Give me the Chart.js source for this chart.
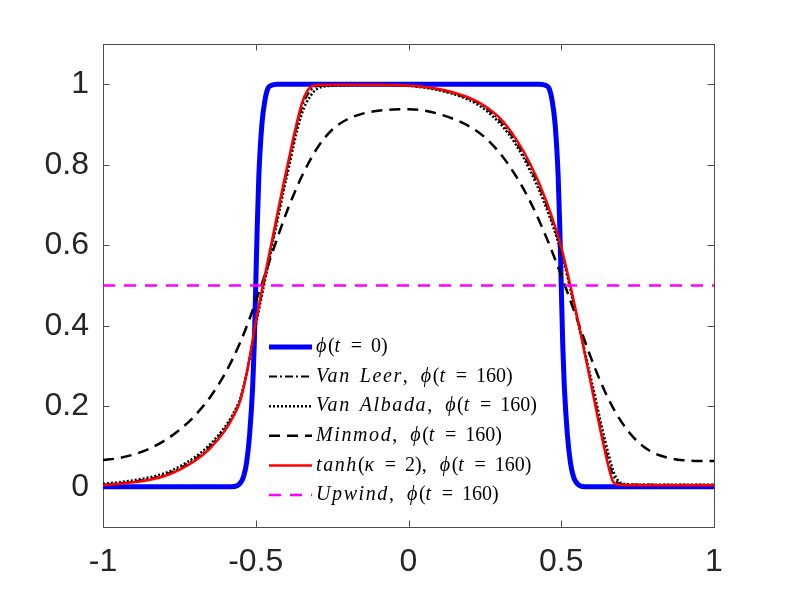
<!DOCTYPE html>
<html lang="en">
<head>
<meta charset="UTF-8" />
<title>Limiter comparison, phi(t = 160)</title>
<style>
  body{margin:0;background:#fff;}
  #wrap{width:789px;height:592px;}
  canvas{display:block;}
</style>
<script src="https://cdn.jsdelivr.net/npm/chart.js@4.4.0/dist/chart.umd.min.js"></script>
</head>
<body>
<div id="wrap"><canvas id="chart" width="789" height="592"></canvas></div>
<script>
// ===== data =====
const xTicks = [-1, -0.5, 0, 0.5, 1];
const xTickLabels = ['-1', '-0.5', '0', '0.5', '1'];
const yTicks = [0, 0.2, 0.4, 0.6, 0.8, 1];
const yTickLabels = ['0', '0.2', '0.4', '0.6', '0.8', '1'];

// phi(t=0)
const initX = [-1,-0.58,-0.56,-0.55,-0.54,-0.53,-0.52,-0.51,-0.505,-0.5,-0.495,-0.49,-0.48,-0.47,-0.46,-0.45,-0.43,
               0.43,0.45,0.46,0.47,0.48,0.49,0.495,0.5,0.505,0.51,0.52,0.53,0.54,0.55,0.56,0.58,1];
const initY = [0,0,0.003,0.01,0.025,0.06,0.13,0.25,0.35,0.5,0.65,0.77,0.9,0.96,0.99,0.997,1,
               1,0.997,0.99,0.96,0.9,0.77,0.65,0.5,0.35,0.25,0.13,0.06,0.025,0.01,0.003,0,0];

// Van Leer
const vanLeerX = [-1,-0.9,-0.8,-0.75,-0.7,-0.65,-0.6,-0.575,-0.55,-0.525,-0.5,-0.45,-0.4,-0.35,-0.32,-0.3,-0.2,-0.1,
                  0,0.1,0.2,0.25,0.3,0.35,0.4,0.45,0.5,0.55,0.6,0.65,0.675,0.7,1];
const vanLeerY = [0.005,0.013,0.029,0.046,0.068,0.1,0.145,0.176,0.218,0.3,0.405,0.592,0.775,0.94,0.985,0.995,0.998,0.998,
                  0.996,0.986,0.963,0.942,0.908,0.858,0.79,0.703,0.587,0.427,0.25,0.078,0.02,0.006,0.005];

// Van Albada
const vanAlbadaX = [-1,-0.9,-0.8,-0.75,-0.7,-0.65,-0.6,-0.575,-0.55,-0.525,-0.5,-0.45,-0.4,-0.35,-0.32,-0.3,-0.25,-0.1,
                    0,0.1,0.2,0.25,0.3,0.35,0.4,0.45,0.5,0.55,0.6,0.65,0.675,0.7,0.75,1];
const vanAlbadaY = [0.007,0.016,0.033,0.05,0.073,0.105,0.15,0.18,0.222,0.3,0.40,0.585,0.765,0.925,0.972,0.988,0.996,0.998,
                    0.996,0.985,0.96,0.937,0.902,0.852,0.782,0.695,0.582,0.425,0.26,0.095,0.03,0.008,0.005,0.005];

// Minmod
const minmodX = [-1,-0.95,-0.9,-0.85,-0.8,-0.75,-0.7,-0.65,-0.6,-0.55,-0.5,-0.45,-0.4,-0.35,-0.3,-0.25,-0.2,-0.15,-0.1,-0.05,
                 0,0.05,0.1,0.15,0.2,0.25,0.3,0.35,0.4,0.45,0.5,0.55,0.6,0.65,0.7,0.75,0.8,0.85,0.9,0.95,1];
const minmodY = [0.066,0.071,0.08,0.094,0.114,0.141,0.176,0.222,0.282,0.36,0.46,0.572,0.68,0.77,0.84,0.887,0.913,0.927,0.934,0.937,
                 0.938,0.935,0.926,0.913,0.895,0.868,0.828,0.774,0.706,0.622,0.525,0.42,0.315,0.225,0.158,0.112,0.085,0.072,0.066,0.064,0.064];

// tanh(kappa=2)
const tanhX = [-1,-0.95,-0.9,-0.85,-0.8,-0.75,-0.7,-0.65,-0.6,-0.575,-0.55,-0.525,-0.5,-0.45,-0.4,-0.35,-0.33,-0.31,-0.25,-0.2,-0.1,
               0,0.05,0.1,0.15,0.2,0.25,0.3,0.35,0.4,0.45,0.5,0.55,0.6,0.65,0.67,0.69,0.8,1];
const tanhY = [0.004,0.007,0.011,0.017,0.026,0.042,0.064,0.095,0.14,0.172,0.215,0.3,0.41,0.6,0.785,0.95,0.985,0.997,0.999,0.999,0.999,
               0.997,0.994,0.988,0.979,0.966,0.946,0.915,0.866,0.8,0.712,0.595,0.43,0.245,0.065,0.012,0.005,0.004,0.004];

// Upwind
const upwindX = [-1, 1];
const upwindY = [0.5, 0.5];

const labels = [
  'ϕ(t = 0)',
  'Van Leer, ϕ(t = 160)',
  'Van Albada, ϕ(t = 160)',
  'Minmod, ϕ(t = 160)',
  'tanh(κ = 2), ϕ(t = 160)',
  'Upwind, ϕ(t = 160)'
];

const pts = (xs, ys) => xs.map((x, i) => ({x: x, y: ys[i]}));

const series = [
  {label: labels[0], data: pts(initX, initY), borderColor: '#0000ff', borderWidth: 5, borderDash: []},
  {label: labels[1], data: pts(vanLeerX, vanLeerY), borderColor: '#000000', borderWidth: 2, borderDash: [8, 3, 2, 3]},
  {label: labels[2], data: pts(vanAlbadaX, vanAlbadaY), borderColor: '#000000', borderWidth: 2.5, borderDash: [2, 2]},
  {label: labels[3], data: pts(minmodX, minmodY), borderColor: '#000000', borderWidth: 2.5, borderDash: [11, 7]},
  {label: labels[4], data: pts(tanhX, tanhY), borderColor: '#ff0000', borderWidth: 2.5, borderDash: []},
  {label: labels[5], data: pts(upwindX, upwindY), borderColor: '#ff00ff', borderWidth: 2.5, borderDash: [12, 9]}
];

// ===== box with inward ticks (matlab look) =====
const framePlugin = {
  id: 'frame',
  beforeDatasetsDraw(chart) {
    const {ctx, chartArea: a, scales: {x, y}} = chart;
    const t = 6.5;
    ctx.save();
    ctx.strokeStyle = '#4d4d4d';
    ctx.lineWidth = 1;
    ctx.strokeRect(a.left + 0.5, a.top + 0.5, a.right - a.left, a.bottom - a.top);
    ctx.beginPath();
    xTicks.forEach(v => {
      const px = Math.round(x.getPixelForValue(v)) + 0.5;
      ctx.moveTo(px, a.bottom); ctx.lineTo(px, a.bottom - t);
      ctx.moveTo(px, a.top); ctx.lineTo(px, a.top + t);
    });
    yTicks.forEach(v => {
      const py = Math.round(y.getPixelForValue(v)) + 0.5;
      ctx.moveTo(a.left, py); ctx.lineTo(a.left + t, py);
      ctx.moveTo(a.right, py); ctx.lineTo(a.right - t, py);
    });
    ctx.stroke();
    ctx.restore();
  }
};

// ===== legend with latex-like labels =====
// letters in italic, digits and signs upright, spaces widened like math mode
function drawMath(ctx, str, x, y) {
  const runs = str.match(/[A-Za-zϕκ]+|\s+|[^A-Za-zϕκ\s]+/g);
  ctx.textBaseline = 'middle';
  ctx.fillStyle = '#000';
  runs.forEach((r, i) => {
    if (/^\s+$/.test(r)) {
      const prev = runs[i - 1] || '';
      x += prev.endsWith(',') ? 13 : 9;
      return;
    }
    const ital = /[A-Za-zϕκ]/.test(r);
    ctx.font = (ital ? 'italic ' : '') + '20px "Liberation Serif", "DejaVu Serif", serif';
    ctx.letterSpacing = ital ? '1.6px' : '0px';
    ctx.fillText(r, x, y);
    x += ctx.measureText(r).width;
  });
  ctx.letterSpacing = '0px';
}

const legendPlugin = {
  id: 'mathLegend',
  afterDatasetsDraw(chart) {
    const ctx = chart.ctx;
    const x0 = 269, x1 = 312, top = 347, step = 29.6;
    chart.data.datasets.forEach((ds, i) => {
      const yy = top + i * step;
      ctx.save();
      ctx.strokeStyle = ds.borderColor;
      ctx.lineWidth = ds.borderWidth;
      ctx.setLineDash(ds.borderDash);
      ctx.beginPath();
      ctx.moveTo(x0, yy); ctx.lineTo(x1, yy);
      ctx.stroke();
      ctx.setLineDash([]);
      drawMath(ctx, ds.label, x1 + 4, yy);
      ctx.restore();
    });
  }
};

const tickFont = {family: '"Liberation Sans", Arial, sans-serif', size: 32};

new Chart(document.getElementById('chart'), {
  type: 'line',
  data: {
    datasets: series.map((s, i) => Object.assign({
      fill: false,
      pointRadius: 0,
      cubicInterpolationMode: 'monotone',
      borderJoinStyle: 'round',
      order: series.length - i
    }, s))
  },
  options: {
    responsive: false,
    animation: false,
    devicePixelRatio: 1,
    layout: {padding: {top: 44, right: 75, left: 0, bottom: 0}},
    plugins: {legend: {display: false}, tooltip: {enabled: false}},
    scales: {
      x: {
        type: 'linear', min: -1, max: 1,
        grid: {display: false}, border: {display: false},
        afterBuildTicks: s => { s.ticks = xTicks.map(v => ({value: v})); },
        afterFit: s => { s.height = 65; },
        ticks: {
          color: '#262626', font: tickFont, padding: 8, maxRotation: 0,
          callback: (v) => xTickLabels[xTicks.indexOf(v)]
        }
      },
      y: {
        type: 'linear', min: -0.1, max: 1.1,
        grid: {display: false}, border: {display: false},
        afterBuildTicks: s => { s.ticks = yTicks.map(v => ({value: v})); },
        afterFit: s => { s.width = 103; },
        ticks: {
          color: '#262626', font: tickFont, padding: 6,
          callback: (v) => yTickLabels[yTicks.indexOf(v)]
        }
      }
    }
  },
  plugins: [framePlugin, legendPlugin]
});
</script>
</body>
</html>
